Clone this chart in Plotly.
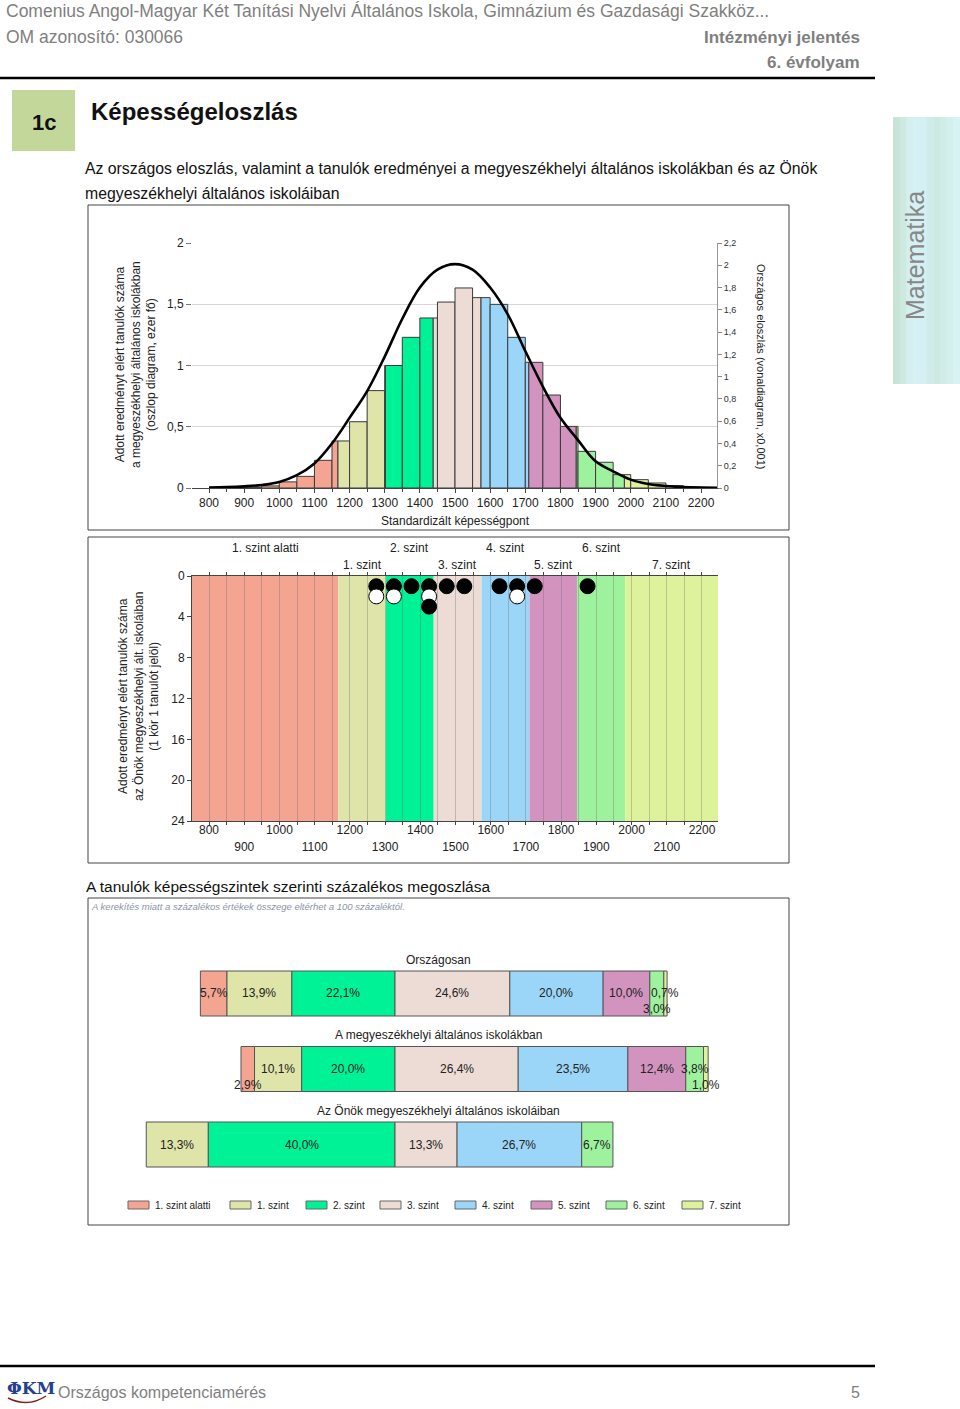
import plotly.graph_objects as go

W, H = 960, 1409
FONT = "Liberation Sans, Arial, sans-serif"

# ---------------- data ----------------
level_names = ["1. szint alatti", "1. szint", "2. szint", "3. szint",
               "4. szint", "5. szint", "6. szint", "7. szint"]
level_colors = ["#F4A592", "#DFE4A8", "#00F296", "#EDDCD6",
                "#9BD6F8", "#D293BF", "#9EF29E", "#DEF29C"]
level_cuts = [1167, 1302, 1438, 1574, 1710, 1845, 1982]   # lower bound of levels 1..7

score_min, score_max = 751.6, 2245.5
x_ticks = list(range(800, 2300, 100))
x_ticks_upper = list(range(800, 2300, 200))
x_ticks_lower = list(range(900, 2200, 200))

# histogram of the county-seat schools (thousand students), 50-point bins
bin_left = list(range(800, 2250, 50))
bin_width = 50
bin_count = [0.0, 0.002, 0.005, 0.017, 0.05, 0.095, 0.226, 0.384, 0.541, 0.795,
             1.0, 1.23, 1.388, 1.518, 1.633, 1.554, 1.499, 1.23, 1.026, 0.759,
             0.503, 0.299, 0.21, 0.109, 0.068, 0.041, 0.019, 0.008, 0.003]

# national distribution (x0.001)
nat_x = list(range(800, 2300, 50))
nat_y = [0.004, 0.008, 0.015, 0.027, 0.055, 0.115, 0.22, 0.40, 0.63, 0.87,
         1.18, 1.52, 1.80, 1.96, 2.01, 1.96, 1.80, 1.56, 1.23, 0.91,
         0.63, 0.43, 0.24, 0.15, 0.075, 0.036, 0.018, 0.008, 0.004, 0.002]

# own students (1 circle = 1 student), drawn row by row
dots_x = [1275, 1325, 1375, 1425, 1475, 1525, 1625, 1675, 1725, 1875,
          1275, 1325, 1425, 1675, 1425]
dots_y = [1, 1, 1, 1, 1, 1, 1, 1, 1, 1, 2, 2, 2, 2, 3]
dots_black = [True] * 10 + [False] * 4 + [True]

# percentage distribution by level
group_titles = ["Országosan", "A megyeszékhelyi általános iskolákban",
                "Az Önök megyeszékhelyi általános iskoláiban"]
pct_orszagos = [5.7, 13.9, 22.1, 24.6, 20.0, 10.0, 3.0, 0.7]
pct_megye = [2.9, 10.1, 20.0, 26.4, 23.5, 12.4, 3.8, 1.0]
pct_onok = [0.0, 13.3, 40.0, 13.3, 26.7, 0.0, 6.7, 0.0]

# ---------------- helpers ----------------
def px(x):
    return x / W


def py(y):
    return 1 - y / H


annotations = []
shapes = []


def text(t, x, y, size=12, color="#222", xanchor="left", yanchor="middle",
         angle=0, family=FONT, xref="paper", yref="paper", yshift=0):
    annotations.append(dict(
        text=t, x=px(x) if xref == "paper" else x,
        y=py(y) if yref == "paper" else y,
        xref=xref, yref=yref, xanchor=xanchor, yanchor=yanchor,
        showarrow=False, textangle=angle, yshift=yshift,
        font=dict(family=family, size=size, color=color)))


def rect(x0, y0, x1, y1, fill="rgba(0,0,0,0)", line="#555", lw=1, layer="above"):
    shapes.append(dict(type="rect", xref="paper", yref="paper",
                       x0=px(x0), x1=px(x1), y0=py(y0), y1=py(y1),
                       fillcolor=fill, line=dict(color=line, width=lw), layer=layer))


def hline(x0, x1, y, color="#000", lw=2.5):
    shapes.append(dict(type="line", xref="paper", yref="paper",
                       x0=px(x0), x1=px(x1), y0=py(y), y1=py(y),
                       line=dict(color=color, width=lw)))


def level_of(v):
    return sum(1 for c in level_cuts if v >= c)


def comma(v, fmt="{:.1f}"):
    return fmt.format(v).replace(".", ",")


fig = go.Figure()

# ---------------- chart 1: histogram + national curve ----------------
segs = {i: dict(x=[], w=[], y=[]) for i in range(8)}
for a, h in zip(bin_left, bin_count):
    if h <= 0:
        continue
    b = a + bin_width
    edges = [a] + [c for c in level_cuts if a < c < b] + [b]
    for lo, hi in zip(edges[:-1], edges[1:]):
        L = level_of(lo)
        segs[L]["x"].append((lo + hi) / 2)
        segs[L]["w"].append(hi - lo)
        segs[L]["y"].append(h)

for L in range(8):
    if not segs[L]["x"]:
        continue
    fig.add_trace(go.Bar(
        x=segs[L]["x"], y=segs[L]["y"], width=segs[L]["w"],
        marker=dict(color=level_colors[L], line=dict(color="#3a3a3a", width=1)),
        xaxis="x", yaxis="y", hoverinfo="skip", showlegend=False))

fig.add_trace(go.Scatter(
    x=nat_x, y=nat_y, mode="lines",
    line=dict(color="#000", width=2.6, shape="spline", smoothing=1.0),
    xaxis="x", yaxis="y2", hoverinfo="skip", showlegend=False))

# ---------------- chart 2: dot plot ----------------
band_edges = [score_min] + level_cuts + [score_max]
for L in range(8):
    shapes.append(dict(type="rect", xref="x2", yref="y3",
                       x0=band_edges[L], x1=band_edges[L + 1], y0=0, y1=24,
                       fillcolor=level_colors[L], line=dict(width=0), layer="below"))
    cx = (band_edges[L] + band_edges[L + 1]) / 2
    text(level_names[L], cx, 548 if L % 2 == 0 else 565, size=12, xanchor="center",
         xref="x2")

fig.add_trace(go.Scatter(
    x=dots_x, y=dots_y, mode="markers",
    marker=dict(size=15, color=["#000" if b else "#fff" for b in dots_black],
                line=dict(color="#000", width=1)),
    xaxis="x2", yaxis="y3", hoverinfo="skip", showlegend=False))

# invisible trace on the second-row label axis so it gets drawn
fig.add_trace(go.Scatter(x=[None], y=[None], xaxis="x4", yaxis="y3",
                         hoverinfo="skip", showlegend=False))

# ---------------- chart 3: stacked percentage bars ----------------
groups = [pct_orszagos, pct_megye, pct_onok]
bases = []
for g in groups:
    cum = -sum(g[:3])
    b = []
    for p in g:
        b.append(cum)
        cum += p
    bases.append(b)

for L in range(8):
    xs = [g[L] if g[L] > 0 else None for g in groups]
    fig.add_trace(go.Bar(
        orientation="h", y=[0, 1, 2], x=xs, base=[bases[k][L] for k in range(3)],
        width=0.596,
        marker=dict(color=level_colors[L], line=dict(color="#555", width=1)),
        xaxis="x3", yaxis="y4", hoverinfo="skip", showlegend=False))

label_shift = {(0, 6): -16, (1, 0): -16, (1, 7): -16}
for k, g in enumerate(groups):
    for L, p in enumerate(g):
        if p <= 0:
            continue
        annotations.append(dict(
            text=comma(p) + "%", x=bases[k][L] + p / 2, y=k, xref="x3", yref="y4",
            showarrow=False, xanchor="center", yanchor="middle",
            yshift=label_shift.get((k, L), 0),
            font=dict(family=FONT, size=12, color="#222")))
    annotations.append(dict(
        text=group_titles[k], x=px(438.5), y=k - 0.444, xref="paper", yref="y4",
        showarrow=False, xanchor="center", yanchor="middle",
        font=dict(family=FONT, size=12, color="#222")))

# manual legend
legend_box_x = [128, 230, 306, 380, 455, 531, 606, 682]
for L, bx in enumerate(legend_box_x):
    rect(bx, 1201, bx + 21, 1209, fill=level_colors[L], line="#666", lw=1)
    text(level_names[L], bx + 25, 1205, size=10, color="#222")

# ---------------- page decoration ----------------
GRAY = "#7f7f7f"
text("Comenius Angol-Magyar Két Tanítási Nyelvi Általános Iskola, Gimnázium és Gazdasági Szakköz...",
     4, 11, size=17.5, color=GRAY)
text("OM azonosító: 030066", 4, 37, size=17.5, color=GRAY)
text("<b>Intézményi jelentés</b>", 862, 37, size=17, color=GRAY, xanchor="right")
text("<b>6. évfolyam</b>", 862, 63, size=17, color=GRAY, xanchor="right")
hline(0, 875, 78)

rect(12, 90, 75, 151, fill="#C4D79B", line="#C4D79B", lw=0, layer="below")
text("<b>1c</b>", 43.5, 122, size=22, color="#111", xanchor="center")
text("<b>Képességeloszlás</b>", 89, 111, size=24, color="#111")
text("Az országos eloszlás, valamint a tanulók eredményei a megyeszékhelyi általános iskolákban és az Önök",
     83, 169, size=15.8, color="#111")
text("megyeszékhelyi általános iskoláiban", 83, 193, size=15.8, color="#111")

# side tab with a soft gradient
tab_cols = [(200, 228, 214), (206, 233, 224), (212, 239, 240), (214, 241, 246),
            (212, 240, 243), (208, 236, 234), (205, 234, 226), (207, 236, 229),
            (212, 240, 238), (216, 243, 244)]
tw = (960 - 893) / len(tab_cols)
for i, c in enumerate(tab_cols):
    shapes.append(dict(type="rect", xref="paper", yref="paper",
                       x0=px(893 + i * tw), x1=px(893 + (i + 1) * tw + 0.5),
                       y0=py(384), y1=py(117), fillcolor="rgb(%d,%d,%d)" % c,
                       line=dict(width=0), layer="below"))
text("Matematika", 915, 256, size=25, color="#888", xanchor="center", angle=-90)

# chart boxes
rect(88, 205, 789, 530, line="#444", lw=1)
rect(88, 537, 789, 863, line="#444", lw=1)
rect(88, 898, 789, 1225, line="#444", lw=1)

# chart 1 axis titles
text("Adott eredményt elért tanulók száma<br>a megyeszékhelyi általános iskolákban<br>(oszlop diagram, ezer fő)",
     135, 365, size=12, color="#222", xanchor="center", angle=-90)
text("Országos eloszlás (vonaldiagram, x0,001)", 761, 366, size=11, color="#222",
     xanchor="center", angle=90)
text("Standardizált képességpont", 455, 521, size=12, color="#222", xanchor="center")

# chart 2 axis title
text("Adott eredményt elért tanulók száma<br>az Önök megyeszékhelyi ált. iskoláiban<br>(1 kör 1 tanulót jelöl)",
     138, 697, size=12, color="#222", xanchor="center", angle=-90)

# chart 3 titles
text("A tanulók képességszintek szerinti százalékos megoszlása", 84, 887, size=15.5, color="#111")
text("<i>A kerekítés miatt a százalékos értékek összege eltérhet a 100 százaléktól.</i>",
     89, 906, size=9.5, color="#8a96a8")

# footer
hline(0, 875, 1366)
text("<b>ΦKM</b>", 5, 1388, size=17, color="#27408B", family="DejaVu Serif, serif")
shapes.append(dict(type="path", xref="paper", yref="paper",
                   path="M %f %f Q %f %f %f %f" % (px(8), py(1398), px(28), py(1408), px(46), py(1396)),
                   line=dict(color="#8B1A1A", width=1.5)))
text("Országos kompetenciamérés", 56, 1392, size=16, color=GRAY)
text("5", 862, 1392, size=16, color=GRAY, xanchor="right")

# ---------------- axes ----------------
tickfont = dict(family=FONT, size=12, color="#222")
fig.update_layout(
    template="none",
    width=W, height=H, margin=dict(l=0, r=0, t=0, b=0),
    paper_bgcolor="#fff", plot_bgcolor="rgba(0,0,0,0)",
    barmode="overlay", showlegend=False,
    font=dict(family=FONT, color="#222"),
    xaxis=dict(domain=[px(192), px(717)], range=[score_min, score_max], anchor="y",
               tickmode="array", tickvals=x_ticks, ticktext=[str(v) for v in x_ticks],
               ticks="outside", ticklen=4, tickcolor="#444",
               minor=dict(tickvals=list(range(850, 2250, 100)), ticks="outside",
                          ticklen=3, tickcolor="#444"),
               showline=True, linecolor="#444", linewidth=1,
               showgrid=False, zeroline=False, tickfont=tickfont),
    yaxis=dict(domain=[py(488), py(243)], range=[0, 2], anchor="x",
               tickmode="array", tickvals=[0, 0.5, 1, 1.5, 2],
               ticktext=["0", "0,5", "1", "1,5", "2"],
               ticks="outside", ticklen=5, tickcolor="#777",
               showgrid=True, gridcolor="#d6d6d6", gridwidth=1,
               zeroline=False, showline=False, tickfont=tickfont),
    yaxis2=dict(overlaying="y", side="right", anchor="x", range=[0, 2.2],
                tickmode="array", tickvals=[i * 0.2 for i in range(12)],
                ticktext=[comma(i * 0.2) if i % 5 else comma(i * 0.2, "{:.0f}")
                          for i in range(12)],
                ticks="outside", ticklen=4, tickcolor="#888",
                showline=True, linecolor="#999", showgrid=False, zeroline=False,
                tickfont=dict(family=FONT, size=9, color="#333")),
    xaxis2=dict(domain=[px(192), px(718)], range=[score_min, score_max], anchor="y3",
                tickmode="array", tickvals=x_ticks,
                ticktext=[str(v) if v in x_ticks_upper else "" for v in x_ticks],
                ticks="outside", ticklen=3, tickcolor="#444", ticklabelstandoff=-5,
                minor=dict(tickvals=list(range(850, 2250, 100)), ticks="outside",
                           ticklen=3, tickcolor="#444", showgrid=True,
                           gridcolor="rgba(110,110,110,0.35)", gridwidth=1),
                showline=True, linecolor="#444", linewidth=1, mirror="ticks",
                showgrid=True, gridcolor="rgba(110,110,110,0.35)", gridwidth=1,
                zeroline=False, tickfont=tickfont),
    xaxis4=dict(domain=[px(192), px(718)], range=[score_min, score_max], anchor="y3",
                overlaying="x2", side="bottom",
                tickmode="array", tickvals=x_ticks_lower,
                ticktext=[str(v) for v in x_ticks_lower],
                ticks="", ticklabelstandoff=17, showline=False, showgrid=False,
                zeroline=False, tickfont=tickfont),
    yaxis3=dict(domain=[py(821), py(576)], range=[24, 0], anchor="x2",
                tickmode="array", tickvals=list(range(0, 25, 4)),
                ticks="outside", ticklen=4, tickcolor="#444",
                showline=True, linecolor="#444", showgrid=False, zeroline=False,
                tickfont=tickfont),
    xaxis3=dict(domain=[0, 1], range=[(0 - 395) / 4.667, (960 - 395) / 4.667],
                anchor="y4", visible=False, fixedrange=True),
    yaxis4=dict(domain=[py(1200), py(940)], range=[2.735, -0.7086], anchor="x3",
                visible=False, fixedrange=True),
    annotations=annotations, shapes=shapes,
)

fig.write_html("out.html", config={"displayModeBar": False, "staticPlot": True},
               post_script="document.body.style.margin='0';document.body.style.overflow='hidden';")
